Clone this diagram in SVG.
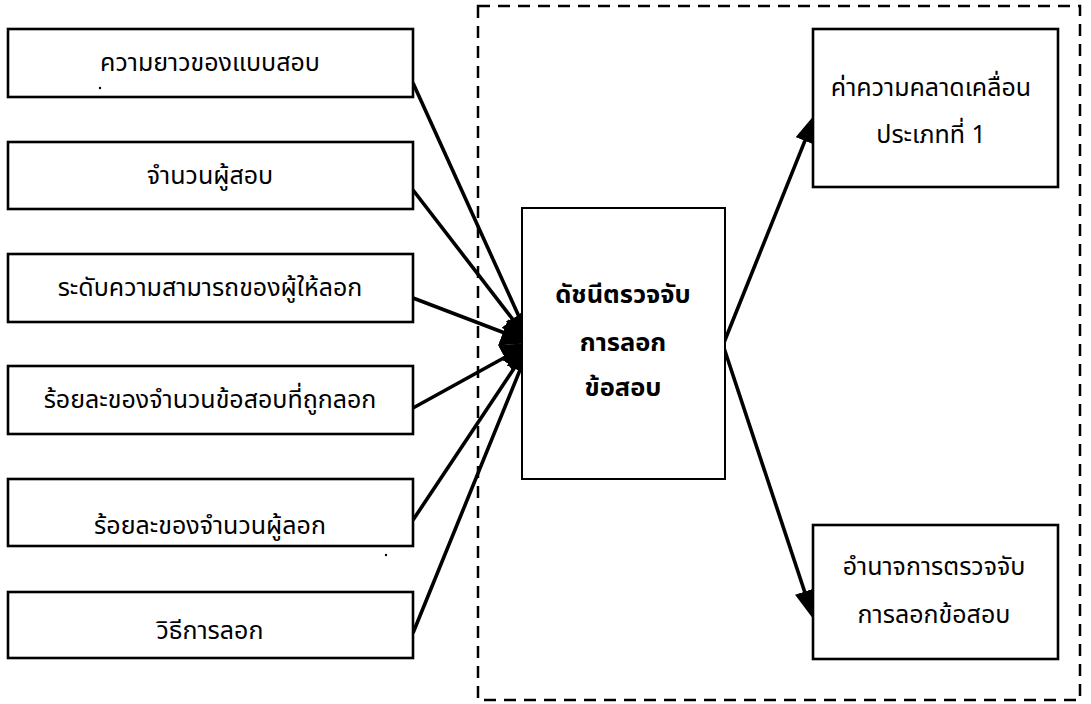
<svg xmlns="http://www.w3.org/2000/svg" width="1091" height="704" viewBox="0 0 1091 704">
  <style>
    .box { fill: #ffffff; stroke: #000000; stroke-width: 2.6; }
    .core { fill: #ffffff; stroke: #000000; stroke-width: 2; }
    .frame { fill: none; stroke: #000000; stroke-width: 2.5; stroke-dasharray: 12 8; }
    .link { fill: none; stroke: #000000; stroke-width: 3.6; }
    .in { marker-end: url(#fan-head); }
    .out { marker-end: url(#head); }
    .lbl { font-family: "Noto Sans Thai", "Noto Sans", "DejaVu Sans", sans-serif; font-size: 25px; fill: #000000; text-anchor: middle; }
    .bold { font-weight: bold; font-size: 25.5px; }
    .speck { fill: #000000; }
  </style>
  <defs>
    <!-- filled arrowheads; each tip sits 6 units beyond the end of its line -->
    <marker id="head" viewBox="0 0 30 20" refX="24" refY="10" markerWidth="30" markerHeight="20" markerUnits="userSpaceOnUse" orient="auto">
      <path d="M0,0 L30,10 L0,20 z" fill="#000000"/>
    </marker>
    <!-- wider heads for the fan of inputs, so they merge into one solid cluster -->
    <marker id="fan-head" viewBox="0 0 30 28" refX="24" refY="14" markerWidth="30" markerHeight="28" markerUnits="userSpaceOnUse" orient="auto">
      <path d="M0,0 L30,14 L0,28 z" fill="#000000"/>
    </marker>
  </defs>
  <rect width="1091" height="704" fill="#ffffff"/>

  <!-- dashed boundary around the index and its outcomes -->
  <rect id="boundary" class="frame" x="478" y="6" width="602" height="694"/>

  <!-- connectors: factors into the index, index to outcomes -->
  <g id="connectors">
    <line class="link in" x1="413" y1="83" x2="528.5" y2="337.5"/>
    <line class="link in" x1="413" y1="190" x2="527.3" y2="338.2"/>
    <line class="link in" x1="413" y1="298" x2="525.4" y2="340.9"/>
    <line class="link in" x1="413" y1="408" x2="525.7" y2="345.9"/>
    <line class="link in" x1="413" y1="520" x2="527.7" y2="348"/>
    <line class="link in" x1="413" y1="633" x2="528.7" y2="348.6"/>
    <line class="link out" x1="723" y1="345" x2="813.8" y2="118.6"/>
    <line class="link out" x1="723" y1="345" x2="812.1" y2="614.3"/>
  </g>

  <!-- factor boxes -->
  <g id="test-length">
    <rect class="box" x="8" y="29" width="405" height="68"/>
    <text class="lbl" x="210" y="71">ความยาวของแบบสอบ</text>
    <circle class="speck" cx="100" cy="88" r="1.2"/>
  </g>
  <g id="examinees">
    <rect class="box" x="8" y="142" width="405" height="67"/>
    <text class="lbl" x="210" y="184">จำนวนผู้สอบ</text>
  </g>
  <g id="source-ability">
    <rect class="box" x="8" y="254" width="405" height="68"/>
    <text class="lbl" x="210" y="296">ระดับความสามารถของผู้ให้ลอก</text>
  </g>
  <g id="copied-items">
    <rect class="box" x="8" y="366" width="405" height="68"/>
    <text class="lbl" x="210" y="408">ร้อยละของจำนวนข้อสอบที่ถูกลอก</text>
  </g>
  <g id="copiers">
    <rect class="box" x="8" y="479" width="405" height="67"/>
    <text class="lbl" x="210" y="534">ร้อยละของจำนวนผู้ลอก</text>
    <circle class="speck" cx="386" cy="555" r="1.2"/>
  </g>
  <g id="copy-method">
    <rect class="box" x="8" y="592" width="405" height="66"/>
    <text class="lbl" x="210" y="639">วิธีการลอก</text>
  </g>

  <!-- index box -->
  <g id="index">
    <rect class="core" x="522" y="208" width="203" height="271"/>
    <text class="lbl bold" x="623" y="303">ดัชนีตรวจจับ</text>
    <text class="lbl bold" x="623" y="351">การลอก</text>
    <text class="lbl bold" x="623" y="396">ข้อสอบ</text>
  </g>

  <!-- outcome boxes -->
  <g id="type-one-error">
    <rect class="box" x="813" y="29" width="245" height="158"/>
    <text class="lbl" x="931" y="96">ค่าความคลาดเคลื่อน</text>
    <text class="lbl" x="931" y="143">ประเภทที่ 1</text>
  </g>
  <g id="detection-power">
    <rect class="box" x="813" y="525" width="245" height="134"/>
    <text class="lbl" x="934" y="575">อำนาจการตรวจจับ</text>
    <text class="lbl" x="934" y="623">การลอกข้อสอบ</text>
  </g>
</svg>
